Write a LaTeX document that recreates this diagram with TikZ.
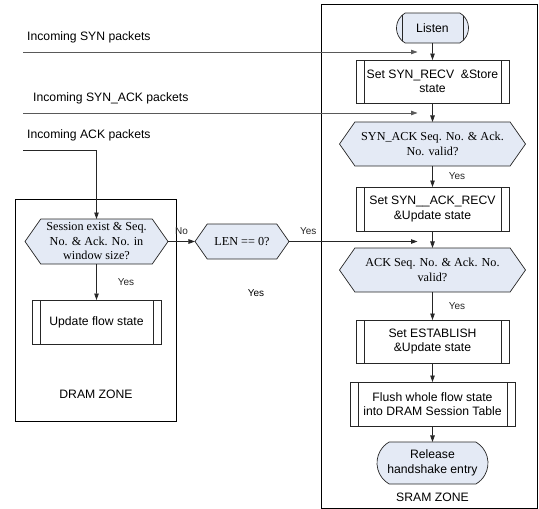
\documentclass[tikz,border=0pt]{standalone}
\usepackage{fontspec}
\setmainfont{Liberation Serif}
\setsansfont{Liberation Sans}
\usetikzlibrary{arrows.meta,positioning,shapes.misc,shapes.symbols}

\definecolor{flowblue}{HTML}{E4EAF5}

\begin{document}
\begin{tikzpicture}[x=1pt,y=1pt,
    node distance=18pt,
    base/.style={draw=black!85,line width=.7pt,inner sep=0pt,outer sep=0pt,align=center,
      font=\sffamily\fontsize{12.2}{14.5}\selectfont},
    bars/.style={path picture={\draw[black!85,line width=.7pt]
      ([xshift=8pt]path picture bounding box.north west) -- ([xshift=8pt]path picture bounding box.south west)
      ([xshift=-8pt]path picture bounding box.north east) -- ([xshift=-8pt]path picture bounding box.south east);}},
    proc/.style={base,bars,minimum width=153pt,minimum height=44pt},
    term/.style={base,rounded rectangle,rounded rectangle arc length=120,fill=flowblue,
      minimum width=72pt,minimum height=30pt},
    hex/.style={base,signal,signal to=west and east,signal pointer angle=110,fill=flowblue,
      font=\rmfamily\fontsize{12.2}{14.5}\selectfont,minimum width=186pt,minimum height=44pt},
    zone/.style={draw=black,line width=.9pt,inner sep=0pt,outer sep=0pt},
    lbl/.style={inner sep=0pt,font=\sffamily\fontsize{12.2}{14.5}\selectfont},
    yes/.style={inner sep=0pt,font=\sffamily\fontsize{10}{12}\selectfont},
    arrow/.style={-{Triangle[length=6.5pt,width=4.5pt]},black!85,line width=.8pt},
    feed/.style={arrow,draw=black!65}]
  \useasboundingbox (0,0) rectangle (539,-509);

  % zones
  \node[zone,minimum width=161pt,minimum height=222pt] (dram) at (95.5,-310) {};
  \node[zone,minimum width=216pt,minimum height=504pt] (sram) at (429,-256) {};
  \node[lbl] (dramlbl) at (96,-394) {DRAM ZONE};
  \node[lbl] (sramlbl) at (432.5,-497) {SRAM ZONE};

  % SRAM column
  \node[term,bars] (listen) at (432.5,-28) {Listen};
  \node[proc,below=17pt of listen,minimum height=43pt] (synrecv) {Set SYN\_RECV\ \ \&Store\\state};
  \node[hex,below=19pt of synrecv] (synackq) {SYN\_ACK Seq. No. \& Ack.\\No. valid?};
  \node[proc,below=21pt of synackq] (synackrecv) {Set SYN\_\_ACK\_RECV\\\&Update state};
  \node[hex,below=17pt of synackrecv] (ackq) {ACK Seq. No. \& Ack. No.\\valid?};
  \node[proc,below=28pt of ackq,minimum height=43pt] (establish) {Set ESTABLISH\\\&Update state};
  \node[proc,below=19pt of establish,minimum width=165pt] (flush) {Flush whole flow state\\into DRAM Session Table};
  \node[term,below=16pt of flush,minimum width=111pt,minimum height=42pt] (release) {Release\\handshake entry};

  % DRAM side
  \node[hex,minimum width=143pt,minimum height=45pt] (session) at (96.5,-241.5)
    {Session exist \& Seq.\\No. \& Ack. No. in\\window size?};
  \node[proc,minimum width=129pt] (update) at (96.5,-322) {Update flow state};
  \node[hex,minimum width=94pt,minimum height=35pt] (len) at (242,-241.5) {LEN == 0?};
  \node[yes] (lenyes) at (256,-293) {Yes};

  % incoming packets
  \node[lbl,anchor=west] (synlbl) at (27,-37) {Incoming SYN packets};
  \node[lbl,anchor=west] (synacklbl) at (33,-98) {Incoming SYN\_ACK packets};
  \node[lbl,anchor=west] (acklbl) at (27,-135) {Incoming ACK packets};
  \coordinate (synin) at (23,-52);
  \coordinate (synackin) at (23,-113);
  \coordinate (ackin) at (23,-150);
  \coordinate (tipcol) at ([xshift=-15pt]listen.south);

  \draw[feed] (synin) -- (synin -| tipcol);
  \draw[feed] (synackin) -- (synackin -| tipcol);
  \draw[arrow] (ackin) -- (ackin -| session.north) -- (session.north);

  \draw[arrow] (listen) -- (synrecv);
  \draw[arrow] (synrecv) -- (synackq);
  \draw[arrow] (synackq) -- node[yes,midway,right=16pt]{Yes} (synackrecv);
  \draw[arrow] (synackrecv) -- (ackq);
  \draw[arrow] (ackq) -- node[yes,midway,right=16pt]{Yes} (establish);
  \draw[arrow] (establish) -- (flush);
  \draw[arrow] (flush) -- (release);

  \draw[arrow] (session) -- node[yes,midway,right=21pt]{Yes} (update);
  \draw[arrow] (session) -- node[yes,midway,above=7pt]{No} (len);
  \draw[arrow] (len.east) -- node[yes,pos=.15,above=7pt]{Yes} (len.east -| tipcol);
\end{tikzpicture}
\end{document}
